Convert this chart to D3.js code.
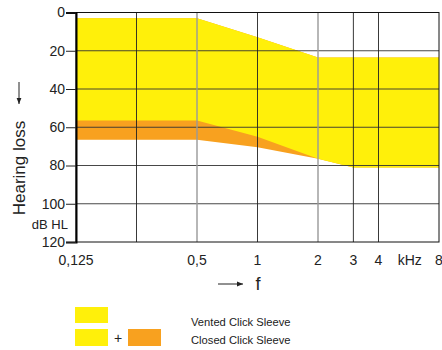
<!DOCTYPE html>
<html>
<head>
<meta charset="utf-8">
<script src="https://cdn.jsdelivr.net/npm/d3@7"></script>
<style>
  body { margin: 0; background: #fff; }
  svg { font-family: "Liberation Sans", Arial, sans-serif; }
</style>
</head>
<body>
<div id="chart"></div>
<script>
// Frequencies (kHz) and hearing loss limits (dB HL)
const freqTicks = [0.125, 0.25, 0.5, 1, 2, 3, 4, 8];
const freqLabels = ["0,125", "", "0,5", "1", "2", "3", "4", "8"];
const greyFreqs = [0.5, 2];
const levelTicks = [0, 20, 40, 60, 80, 100, 120];

const ventedFreq = [0.125, 0.5, 1, 2, 3, 8];
const ventedTop = [3, 3, 13, 23.5, 23.5, 23.5];
const ventedBottom = [56.5, 56.5, 65, 76.5, 81, 81];

const closedFreq = [0.125, 0.5, 1, 2, 3, 8];
const closedTop = [3, 3, 13, 23.5, 23.5, 23.5];
const closedBottom = [66.5, 66.5, 70.5, 76.5, 81, 81];

const legendNames = ["Vented Click Sleeve", "Closed Click Sleeve"];
const yellow = "#fff00a";
const orange = "#f8a11f";

const width = 442, height = 350;
const margin = { top: 12.5, right: 3, bottom: 108, left: 76 };

const svg = d3.select("#chart").append("svg")
  .attr("width", width)
  .attr("height", height);

const x = d3.scaleLog()
  .domain([0.125, 8])
  .range([margin.left, width - margin.right]);

const y = d3.scaleLinear()
  .domain([0, 120])
  .range([margin.top, height - margin.bottom]);

const area = d3.area()
  .x(d => x(d.f))
  .y0(d => y(d.top))
  .y1(d => y(d.bottom));

const closed = closedFreq.map((f, i) => ({ f, top: closedTop[i], bottom: closedBottom[i] }));
const vented = ventedFreq.map((f, i) => ({ f, top: ventedTop[i], bottom: ventedBottom[i] }));

svg.append("path").datum(closed).attr("d", area).attr("fill", orange);
svg.append("path").datum(vented).attr("d", area).attr("fill", yellow);

// Grid
svg.append("g")
  .selectAll("line")
  .data(levelTicks.slice(1, -1))
  .enter().append("line")
  .attr("x1", x(0.125)).attr("x2", x(8))
  .attr("y1", d => y(d)).attr("y2", d => y(d))
  .attr("stroke", "#333").attr("stroke-width", 0.9);

svg.append("g")
  .selectAll("line")
  .data(freqTicks.slice(1, -1))
  .enter().append("line")
  .attr("x1", d => x(d)).attr("x2", d => x(d))
  .attr("y1", y(0)).attr("y2", y(120))
  .attr("stroke", d => greyFreqs.includes(d) ? "#999" : "#222")
  .attr("stroke-width", d => greyFreqs.includes(d) ? 1.4 : 0.9);

// Frame
svg.append("rect")
  .attr("x", x(0.125)).attr("y", y(0))
  .attr("width", x(8) - x(0.125)).attr("height", y(120) - y(0))
  .attr("fill", "none").attr("stroke", "#111").attr("stroke-width", 1);

// Y axis
const yAxis = svg.append("g")
  .attr("transform", `translate(${margin.left},0)`)
  .call(d3.axisLeft(y).tickValues(levelTicks).tickSize(10).tickPadding(1));
yAxis.select(".domain").attr("stroke", "#000").attr("stroke-width", 2);
yAxis.selectAll(".tick line").attr("stroke", "#222");
yAxis.selectAll("text").attr("font-size", 14).attr("fill", "#222")
  .attr("font-family", "Liberation Sans, Arial, sans-serif");

// X labels
svg.append("g")
  .selectAll("text")
  .data(freqTicks)
  .enter().append("text")
  .attr("x", d => x(d))
  .attr("y", 265)
  .attr("text-anchor", "middle")
  .attr("font-size", 14).attr("fill", "#222")
  .text((d, i) => freqLabels[i]);

svg.append("text")
  .attr("x", (x(4) + x(8)) / 2 + 1).attr("y", 265)
  .attr("text-anchor", "middle")
  .attr("font-size", 14).attr("fill", "#222")
  .text("kHz");

// Axis titles
svg.append("text")
  .attr("transform", "translate(25,168) rotate(-90)")
  .attr("text-anchor", "middle")
  .attr("font-size", 17).attr("fill", "#222")
  .text("Hearing loss");

svg.append("text")
  .attr("x", 68).attr("y", 229)
  .attr("text-anchor", "end")
  .attr("font-size", 13).attr("fill", "#222")
  .text("dB HL");

const defs = svg.append("defs");
defs.append("marker")
  .attr("id", "arrow").attr("viewBox", "0 0 10 10")
  .attr("refX", 10).attr("refY", 5)
  .attr("markerWidth", 6).attr("markerHeight", 6)
  .attr("orient", "auto")
  .append("path").attr("d", "M0,1 L10,5 L0,9 Z").attr("fill", "#222");

svg.append("line")
  .attr("x1", 19).attr("x2", 19).attr("y1", 82).attr("y2", 104)
  .attr("stroke", "#222").attr("stroke-width", 1)
  .attr("marker-end", "url(#arrow)");

svg.append("line")
  .attr("x1", 218).attr("x2", 243).attr("y1", 284).attr("y2", 284)
  .attr("stroke", "#222").attr("stroke-width", 1)
  .attr("marker-end", "url(#arrow)");

svg.append("text")
  .attr("x", 258).attr("y", 290)
  .attr("text-anchor", "middle")
  .attr("font-size", 18).attr("fill", "#222")
  .text("f");

// Legend
const legend = svg.append("g");
legend.append("rect").attr("x", 75).attr("y", 307).attr("width", 33).attr("height", 16).attr("fill", yellow);
legend.append("rect").attr("x", 75).attr("y", 329).attr("width", 33).attr("height", 17).attr("fill", yellow);
legend.append("text").attr("x", 118).attr("y", 343).attr("text-anchor", "middle")
  .attr("font-size", 14).attr("fill", "#222").text("+");
legend.append("rect").attr("x", 128).attr("y", 329).attr("width", 33).attr("height", 17).attr("fill", orange);

legend.selectAll(".name")
  .data(legendNames)
  .enter().append("text")
  .attr("class", "name")
  .attr("x", 191)
  .attr("y", (d, i) => 325.5 + i * 18.5)
  .attr("font-size", 11.2).attr("fill", "#222")
  .text(d => d);
</script>
</body>
</html>
